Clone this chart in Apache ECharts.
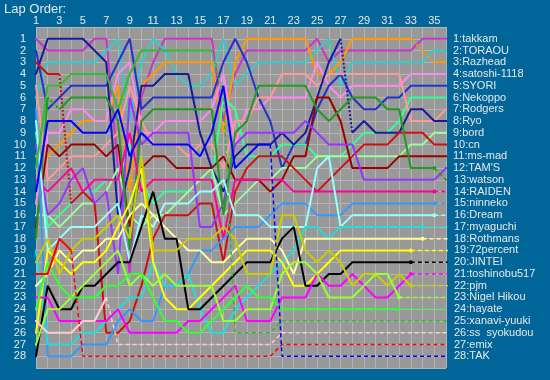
<!DOCTYPE html>
<html><head><meta charset="utf-8">
<script src="https://cdn.jsdelivr.net/npm/echarts@6/dist/echarts.min.js"></script>
<style>html,body{margin:0;padding:0;background:#006699;}#c{width:550px;height:380px;}</style>
</head><body><div id="c"></div><script>
// ---- data (rank at laps 1..36) ----
const names = ['takkam','TORAOU','Razhead','satoshi-1118','SYORI','Nekoppo','Rodgers','Ryo','bord','cn','ms-mad',"TAM'S",'watson','RAIDEN','ninneko','Dream','myaguchi','Rothmans','72percent','JINTEI','toshinobu517','pjm','Nigel Hikou','hayate','xanavi-yuuki','ss  syokudou','emix','TAK'];
const takkam   = [1,2,2,2,2,1,1,12,21,6,3,1,1,1,1,1,8,4,2,2,2,2,2,2,1,3,2,2,2,2,2,2,2,1,1,1];
const toraou   = [6,3,3,3,3,3,2,1,8,3,1,2,4,5,5,4,1,5,4,3,3,3,3,3,2,1,5,3,3,3,3,3,3,3,2,2];
const razhead  = [11,11,10,9,8,8,8,5,14,5,4,3,3,3,3,3,9,3,1,1,1,1,1,1,4,4,3,1,1,1,1,1,1,2,3,3];
const satoshi  = [15,9,9,7,7,8,8,4,3,9,9,8,8,8,8,7,4,10,7,7,6,6,6,6,3,5,6,5,5,5,5,5,4,4,4,4];
const syori    = [2,7,6,5,5,5,5,3,1,7,6,6,6,6,6,6,3,1,3,6,8,12,10,10,7,5,4,6,7,7,6,6,5,5,5,5];
const nekoppo  = [9,17,16,15,14,14,13,13,10,13,15,14,14,14,13,13,6,7,11,11,11,10,10,10,11,11,11,10,9,9,9,8,6,6,6,6];
const rodgers  = [5,13,12,11,11,11,10,9,5,8,10,10,10,11,10,10,12,8,8,6,6,4,4,4,5,4,4,4,4,4,4,4,8,8,8,7];
const ryo      = [4,1,1,1,1,2,3,16,12,5,5,4,4,4,9,12,14,11,10,10,10,9,10,9,6,3,1,9,8,9,9,9,7,7,8,8];
const bord     = [16,16,17,16,15,15,14,12,16,17,16,16,15,14,13,12,16,15,14,13,13,12,12,12,11,11,11,11,11,11,11,11,10,10,9,9];
const cn       = [3,4,4,15,14,15,26,26,25,22,18,16,16,16,15,15,20,14,12,11,11,11,12,13,14,13,12,11,10,10,10,9,9,9,10,10];
const msmad    = [17,10,11,10,10,10,11,10,17,12,11,11,12,12,12,12,11,13,13,13,14,13,11,11,6,6,8,12,12,12,12,11,11,11,11,11];
const tams     = [10,16,15,13,12,15,14,21,6,10,9,9,9,9,17,17,15,10,9,9,9,9,9,8,9,10,10,10,13,13,13,13,13,13,13,12];
const watson   = [18,6,7,6,6,6,6,8,19,8,7,7,7,7,7,7,16,9,8,5,5,5,5,5,7,8,7,6,6,6,7,7,12,12,12,13];
const raiden   = [13,14,13,12,14,13,13,13,9,14,13,13,13,13,13,13,18,13,13,13,13,13,14,14,14,14,14,14,14,14,14,14,14,14,14,14];
const ninneko  = [7,28,28,28,27,27,27,25,24,25,25,22,22,21,19,19,18,17,17,17,16,15,15,15,16,16,16,15,15,15,15,15,15,15,15,15];
const dream    = [8,19,18,17,17,17,16,15,20,16,17,15,15,15,14,14,13,16,16,16,17,17,17,17,12,11,17,16,16,16,16,16,16,16,16,16];
const myaguchi = [19,27,27,27,26,26,25,24,23,23,20,22,22,21,24,26,26,24,23,22,21,20,19,17,17,18,17,17,17,17,17,17,17,17,17,17];
const rothmans = [22,21,19,20,19,19,18,18,16,15,16,17,18,19,19,20,20,19,18,18,18,19,21,18,18,18,18,18,18,18,18,18,18,18,18,18];
const p72      = [26,19,20,21,20,20,19,17,15,12,20,23,24,24,23,22,21,20,19,19,19,20,22,22,21,20,19,19,19,19,19,19,19,19,19,19];
const jintei   = [28,22,24,24,22,22,21,20,20,17,14,18,18,24,24,23,22,21,20,20,20,18,17,22,22,21,21,20,20,20,20,20,20,20,20,20];
const toshi    = [23,23,25,25,25,25,25,24,26,26,26,26,26,25,25,24,23,22,25,25,25,23,23,23,21,22,22,21,22,23,23,22,21,21,21,21];
const pjm      = [20,18,21,19,18,18,17,16,18,11,19,19,19,18,18,18,17,18,21,21,21,16,16,19,20,19,20,22,21,21,22,21,22,22,22,22];
const nigel    = [27,24,24,23,22,21,20,19,22,21,22,21,22,22,22,22,25,25,24,24,24,21,20,20,21,23,23,23,22,21,21,23,23,23,23,23];
const hayate   = [24,20,22,23,23,23,22,22,21,21,23,25,25,26,26,25,24,23,22,23,23,24,24,24,24,24,24,24,24,24,24,24,24,24,24,24];
const xanavi   = [12,5,5,4,4,4,4,7,4,2,2,2,2,2,2,2,6,26,26,26,26,25,25,25,25,25,25,25,25,25,25,25,25,25,25,25];
const syokudou = [25,26,26,26,25,25,23,27,27,27,27,27,27,27,27,27,27,27,27,27,27,26,26,26,26,26,26,26,26,26,26,26,26,26,26,26];
const emix     = [21,21,18,19,28,28,28,28,28,28,28,28,28,28,28,28,28,28,28,28,28,27,27,27,27,27,27,27,27,27,27,27,27,27,27,27];
const tak      = [14,8,8,8,9,9,9,7,11,9,10,10,10,10,11,9,5,12,11,10,10,28,28,28,28,28,28,28,28,28,28,28,28,28,28,28];
const ranks = [takkam,toraou,razhead,satoshi,syori,nekoppo,rodgers,ryo,bord,cn,msmad,tams,watson,raiden,ninneko,dream,myaguchi,rothmans,p72,jintei,toshi,pjm,nigel,hayate,xanavi,syokudou,emix,tak];
// last lap completed (solid line), later laps drawn dashed
const lastLap = [36,36,36,36,36,36,36,36,36,36,36,36,35,35,35,35,34,34,33,33,33,33,32,32,17,7,4,21];
// laps whose following segment is a pit (dotted)
const pitLaps = [[],[],[33,34],[],[],[],[],[27],[],[3],[],[],[2],[],[],[],[],[],[],[],[],[],[],[],[16],[],[],[]];
const xTicks = [1,3,5,7,9,11,13,15,17,19,21,23,25,27,29,31,33,35];
const yTicks = Array.from({length:28},(_,i)=>i+1);

// ---- styles ----
const colors = ['#cc33cc','#33cccc','#ff9900','#ff88ee','#2233cc','#33ff99','#ff9999','#1a1a99','#99ff99','#cc1111','#990000','#9933ff','#229922','#ff0099','#3399ff','#99ffff','#22dddd','#ffff99','#ffff00','#000000','#ff00ff','#cccc00','#99ff33','#33ff33','#33bb33','#ffcccc','#ff0000','#0000ff'];
const FONT = 'Liberation Sans, Arial, sans-serif';
const TXT = '#e8e8e8';

const series = [];
ranks.forEach((r, i) => {
  const c = colors[i];
  const L = lastLap[i];
  const pits = pitLaps[i];
  const label = (i+1) + ':' + names[i];
  const main = [[0.5, r[0]]];
  for (let lap = 1; lap <= L; lap++) {
    main.push([lap, r[lap-1]]);
    if (pits.includes(lap) && lap < L) main.push([lap+0.5, '-']);
  }
  const finisher = L === 36;
  if (finisher) main.push([36.5, r[35]]);
  series.push({
    type:'line', data: main, symbol:'none', clip:false, silent:true,
    lineStyle:{color:c, width:2}, itemStyle:{color:c},
    endLabel: finisher ? {show:true, formatter: label, color:TXT, fontSize:11, fontFamily:FONT, distance:6} : {show:false}
  });
  pits.forEach(p => {
    if (p < L) series.push({type:'line', symbol:'none', clip:false, silent:true,
      data:[[p, r[p-1]],[p+1, r[p]]], lineStyle:{color:c, width:2, type:'dotted'}});
  });
  if (!finisher) {
    const tail = [];
    for (let lap = L; lap <= 36; lap++) tail.push([lap, r[lap-1]]);
    tail.push([36.5, r[35]]);
    const dot = L >= 30;
    const tdata = tail.map((p, k) => (k === 0 && dot) ? {value:p, symbol:'circle', symbolSize:4} : {value:p});
    series.push({
      type:'line', data: tdata, symbol:'none', showSymbol:true, clip:false, silent:true,
      lineStyle:{color:c, width:1.5, type:[4,3]}, itemStyle:{color:c},
      endLabel:{show:true, formatter: label, color:TXT, fontSize:11, fontFamily:FONT, distance:6}
    });
  }
});

const chart = echarts.init(document.getElementById('c'), null, {renderer:'canvas'});
chart.setOption({
  animation:false,
  backgroundColor:'#006699',
  title:{text:'Lap Order:', left:4, top:3, padding:0, textStyle:{color:TXT, fontSize:13, fontWeight:'normal', fontFamily:FONT}},
  grid:{left:36, right:104, top:27, bottom:12, show:true, backgroundColor:'#999999', borderWidth:0},
  xAxis:{type:'value', position:'top', min:1, max:36, interval:1,
    axisLine:{show:false}, axisTick:{show:false},
    axisLabel:{color:TXT, fontSize:11, fontFamily:FONT, margin:1,
      formatter: v => xTicks.includes(v) ? String(v) : ''},
    splitLine:{show:true, lineStyle:{color:'#b4b4b4', width:1}}},
  yAxis:{type:'value', inverse:true, min:0, max:29, interval:1,
    axisLine:{show:false}, axisTick:{show:false},
    axisLabel:{color:TXT, fontSize:11, fontFamily:FONT, margin:10,
      formatter: v => yTicks.includes(v) ? String(v) : ''},
    splitLine:{show:true, lineStyle:{color:'#b4b4b4', width:1}}},
  series: series
});
</script></body></html>
